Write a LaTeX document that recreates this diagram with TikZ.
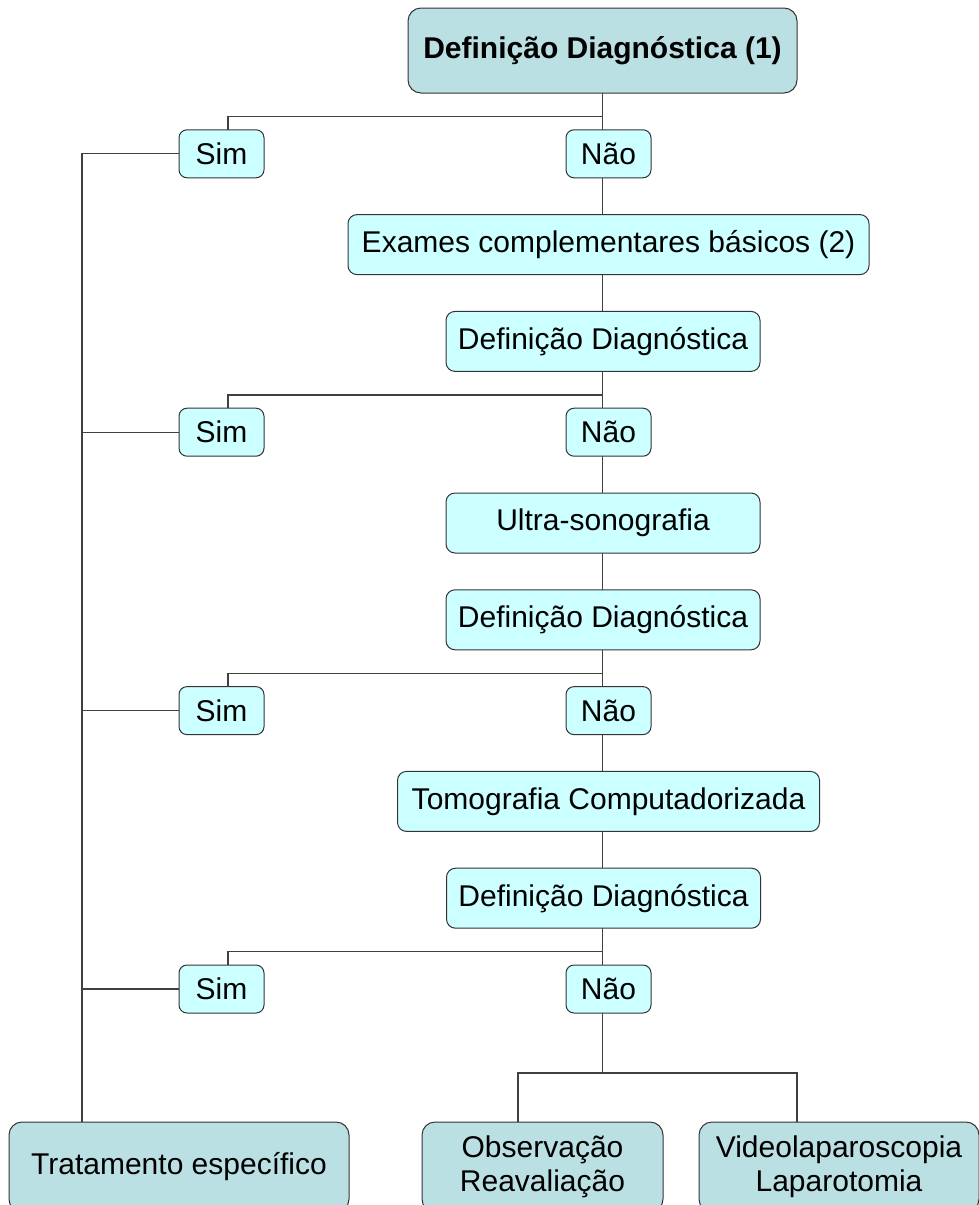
\documentclass[tikz,border=0pt]{standalone}
\usepackage{fontspec}
\setmainfont{Liberation Sans}
\usetikzlibrary{positioning}
\definecolor{answercyan}{RGB}{204,255,255}
\definecolor{resultteal}{RGB}{187,224,227}
\tikzstyle{exam} = [rectangle, rounded corners=9pt, draw=black!80, line width=1pt, fill=answercyan, minimum height=60pt, inner sep=0pt, outer sep=0pt, text centered, font=\fontsize{30}{34}\selectfont]
\tikzstyle{answer} = [exam, rounded corners=8pt, minimum width=85pt, minimum height=48pt]
\tikzstyle{result} = [exam, rounded corners=13pt, fill=resultteal, minimum height=90pt, align=center]
\tikzstyle{line} = [draw=black!75, line width=1.2pt]

\begin{document}
\begin{tikzpicture}[x=1pt, y=-1pt, node distance=36.8pt]
    \useasboundingbox (0,0) rectangle (979,1205);
    % main column
    \node[result, minimum width=389pt, minimum height=85pt, font=\fontsize{30}{34}\selectfont\bfseries] (def1) at (602.5,50.5) {Definição Diagnóstica (1)};
    \node[answer, below=of def1, xshift=6pt] (nao1) {Não};
    \node[answer, left=302pt of nao1] (sim1) {Sim};
    \node[exam, below=of nao1, minimum width=521pt] (exames) {Exames complementares básicos (2)};
    \node[exam, below=of exames, xshift=-5.5pt, minimum width=314pt] (def2) {Definição Diagnóstica};
    \node[answer, below=of def2, xshift=5.5pt] (nao2) {Não};
    \node[answer, left=302pt of nao2] (sim2) {Sim};
    \node[exam, below=of nao2, xshift=-5.5pt, minimum width=314pt] (ultra) {Ultra-sonografia};
    \node[exam, below=of ultra, minimum width=314pt] (def3) {Definição Diagnóstica};
    \node[answer, below=of def3, xshift=5.5pt] (nao3) {Não};
    \node[answer, left=302pt of nao3] (sim3) {Sim};
    \node[exam, below=of nao3, minimum width=422pt] (tomo) {Tomografia Computadorizada};
    \node[exam, below=of tomo, xshift=-5pt, minimum width=314pt] (def4) {Definição Diagnóstica};
    \node[answer, below=of def4, xshift=5pt] (nao4) {Não};
    \node[answer, left=302pt of nao4] (sim4) {Sim};
    % outcomes
    \node[result, below=109pt of sim4, xshift=-42.5pt, minimum width=340pt] (trat) {Tratamento específico};
    \node[result, below=109pt of nao4, xshift=-66pt, minimum width=241pt] (obs) {Observação\\Reavaliação};
    \node[result, right=36pt of obs, minimum width=280pt] (video) {Videolaparoscopia\\Laparotomia};

    % trunk down the middle
    \foreach \a/\b in {def1/nao1, nao1/exames, exames/def2, def2/nao2, nao2/ultra, ultra/def3, def3/nao3, nao3/tomo, tomo/def4, def4/nao4}
        \draw[line] (\a.south -| def1.south) -- (\b.north -| def1.south);
    % branches to Sim
    \foreach \d/\s in {def1/sim1, def2/sim2, def3/sim3, def4/sim4}
        \draw[line] (\d.south -| def1.south) ++(0,-23.5pt) -| ([xshift=6.5pt]\s.north);
    % left trunk to treatment
    \coordinate (trunk) at ([xshift=-97pt]trat.north);
    \draw[line] (sim1.west) -| (trunk);
    \foreach \s in {sim2, sim3, sim4}
        \draw[line] (\s.west) -- (\s.west -| trunk);
    % final split
    \draw[line] (nao4.south -| def1.south) -- ++(0,-60pt) coordinate (split);
    \draw[line] ([xshift=-24.5pt]obs.north) |- (split) -| ([xshift=-42pt]video.north);
\end{tikzpicture}
\end{document}
